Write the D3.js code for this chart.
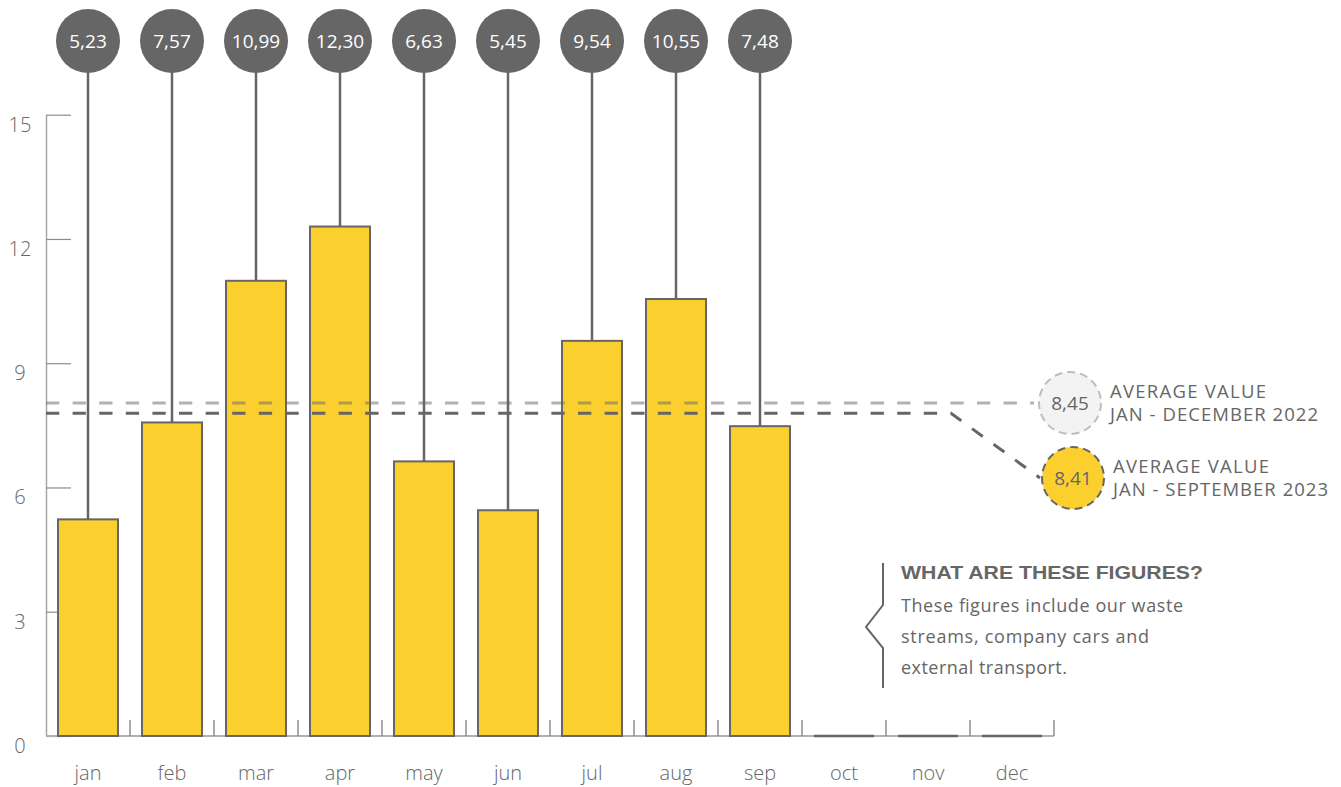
<!DOCTYPE html>
<html>
<head>
<meta charset="utf-8">
<script src="https://cdn.jsdelivr.net/npm/d3@7"></script>
<style>
  html, body { margin: 0; padding: 0; background: #ffffff; }
  svg { display: block; }
</style>
</head>
<body>
<svg id="chart" width="1341" height="787"></svg>
<script>
// ---- data ----
const months = ["jan","feb","mar","apr","may","jun","jul","aug","sep","oct","nov","dec"];
const values = [5.23, 7.57, 10.99, 12.30, 6.63, 5.45, 9.54, 10.55, 7.48, 0, 0, 0];
const hasData = [true, true, true, true, true, true, true, true, true, false, false, false];
const valueLabels = ["5,23","7,57","10,99","12,30","6,63","5,45","9,54","10,55","7,48"];
const yTicks = [0, 3, 6, 9, 12, 15];
const yTickLabels = ["0","3","6","9","12","15"];
// average reference lines (level as drawn in the picture)
const avgLineLevels = [8.04, 7.79];
const avgValueLabels = ["8,45", "8,41"];
const avgLegendLines = [["AVERAGE VALUE", "JAN - DECEMBER 2022"], ["AVERAGE VALUE", "JAN - SEPTEMBER 2023"]];
const noteTitle = "WHAT ARE THESE FIGURES?";
const noteLines = ["These figures include our waste", "streams, company cars and", "external transport."];

// ---- styles ----
const YELLOW = "#fbd02e";
const DARK = "#666666";
const TEXT = "#666666";
const FONT = "'Open Sans', Lato, sans-serif";
// text widths measured on the reference, used to match its wide typeface
const legendWidths = [[156, 208], [156, 215]];
const noteTitleWidth = 302;
const noteWidths = [282, 248, 166];

const svg = d3.select("#chart").style("font-family", FONT);

const x = d3.scaleBand().domain(months).range([46, 1054])
  .paddingInner(24 / 84).paddingOuter(12 / 84);
const y = d3.scaleLinear().domain([0, 15]).range([736, 114.7]);
const bw = x.bandwidth();
const gap = (x.step() - bw) / 2;

// y axis
const yAxis = svg.append("g").attr("transform", "translate(46,0)")
  .call(d3.axisRight(y).tickValues(yTicks).tickSize(25).tickSizeOuter(0).tickFormat(""));
yAxis.select(".domain").attr("stroke", "#a6a6a6").attr("stroke-width", 1.5);
yAxis.selectAll(".tick line").attr("stroke", "#8c8c8c").attr("stroke-width", 1.2);

svg.append("g").selectAll("text").data(yTicks).join("text")
  .attr("x", 20).attr("y", d => y(d) + 17)
  .attr("text-anchor", "middle")
  .style("font-size", "20px").style("font-weight", 300).attr("fill", TEXT)
  .text((d, i) => yTickLabels[i]);

// x baseline
svg.append("line").attr("x1", 46).attr("x2", 1054).attr("y1", y(0)).attr("y2", y(0))
  .attr("stroke", "#b0b0b0").attr("stroke-width", 2);
// x separator ticks
svg.append("g").selectAll("line").data(months).join("line")
  .attr("x1", d => x(d) + bw + gap)
  .attr("x2", d => x(d) + bw + gap)
  .attr("y1", y(0)).attr("y2", y(0) - 16)
  .attr("stroke", "#808080").attr("stroke-width", 1.3);

// month labels
svg.append("g").selectAll("text").data(months).join("text")
  .attr("x", d => x(d) + bw / 2).attr("y", 780)
  .attr("text-anchor", "middle").style("font-size", "20px").style("font-weight", 300)
  .attr("fill", TEXT)
  .text(d => d);

// stems
const dataIdx = months.map((m, i) => i).filter(i => hasData[i]);
svg.append("g").selectAll("line").data(dataIdx).join("line")
  .attr("x1", i => x(months[i]) + bw / 2).attr("x2", i => x(months[i]) + bw / 2)
  .attr("y1", 41).attr("y2", i => y(values[i]))
  .attr("stroke", DARK).attr("stroke-width", 2.5);

// bars
svg.append("g").selectAll("rect").data(dataIdx).join("rect")
  .attr("x", i => x(months[i])).attr("width", bw)
  .attr("y", i => y(values[i])).attr("height", i => y(0) - y(values[i]))
  .attr("fill", YELLOW).attr("stroke", DARK).attr("stroke-width", 2);

// empty months (zero bars)
svg.append("g").selectAll("line").data(months.map((m, i) => i).filter(i => !hasData[i])).join("line")
  .attr("x1", i => x(months[i])).attr("x2", i => x(months[i]) + bw)
  .attr("y1", i => y(values[i])).attr("y2", i => y(values[i]))
  .attr("stroke", DARK).attr("stroke-width", 2.5);

// value circles
const circ = svg.append("g").selectAll("g").data(dataIdx).join("g")
  .attr("transform", i => `translate(${x(months[i]) + bw / 2},41)`);
circ.append("circle").attr("r", 32).attr("fill", DARK);
circ.append("text").attr("text-anchor", "middle").attr("dy", "0.36em")
  .style("font-size", "19px").style("font-weight", 400).attr("fill", "#ffffff")
  .text(i => valueLabels[i]);

// average lines
const lc1 = { cx: 1070, cy: y(avgLineLevels[0]) };
const lc2 = { cx: 1073, cy: 478 };
svg.append("line").attr("x1", 46).attr("x2", lc1.cx - 36)
  .attr("y1", y(avgLineLevels[0])).attr("y2", y(avgLineLevels[0]))
  .attr("stroke", DARK).attr("stroke-opacity", 0.5).attr("stroke-width", 3)
  .attr("stroke-dasharray", "13.3,13.3");
svg.append("path")
  .attr("d", `M46,${y(avgLineLevels[1])} L951,${y(avgLineLevels[1])} L${lc2.cx - 33},${lc2.cy}`)
  .attr("fill", "none").attr("stroke", DARK).attr("stroke-width", 3)
  .attr("stroke-dasharray", "13.3,13.3");

// legend circles
const legend = [
  { c: lc1, fill: "#f3f3f3", stroke: "#bdbdbd", tx: 1110 },
  { c: lc2, fill: YELLOW, stroke: DARK, tx: 1113 }
];
legend.forEach((l, i) => {
  svg.append("circle").attr("cx", l.c.cx).attr("cy", l.c.cy).attr("r", 31)
    .attr("fill", l.fill).attr("stroke", l.stroke).attr("stroke-width", 2)
    .attr("stroke-dasharray", "8,5");
  svg.append("text").attr("x", l.c.cx).attr("y", l.c.cy).attr("dy", "0.36em")
    .attr("text-anchor", "middle").style("font-size", "19px").style("font-weight", 400)
    .attr("fill", TEXT).text(avgValueLabels[i]);
  avgLegendLines[i].forEach((t, j) => {
    svg.append("text").attr("x", l.tx).attr("y", l.c.cy - 5 + j * 23)
      .attr("textLength", legendWidths[i][j]).attr("lengthAdjust", "spacing")
      .style("font-size", "18.5px").style("font-weight", 400).attr("fill", TEXT).text(t);
  });
});

// note bracket
svg.append("path")
  .attr("d", "M883,563 L883,605 L866,627 L883,648 L883,688")
  .attr("fill", "none").attr("stroke", DARK).attr("stroke-width", 2);
svg.append("text").attr("x", 901).attr("y", 579)
  .attr("textLength", noteTitleWidth).attr("lengthAdjust", "spacingAndGlyphs")
  .style("font-family", "'Liberation Sans', Arial, sans-serif")
  .style("font-weight", "bold").style("font-size", "19px").attr("fill", TEXT)
  .text(noteTitle);
noteLines.forEach((t, j) => {
  svg.append("text").attr("x", 901).attr("y", 612 + j * 31)
    .attr("textLength", noteWidths[j]).attr("lengthAdjust", "spacing")
    .style("font-size", "18px").style("font-weight", 400).attr("fill", TEXT).text(t);
});
</script>
</body>
</html>
